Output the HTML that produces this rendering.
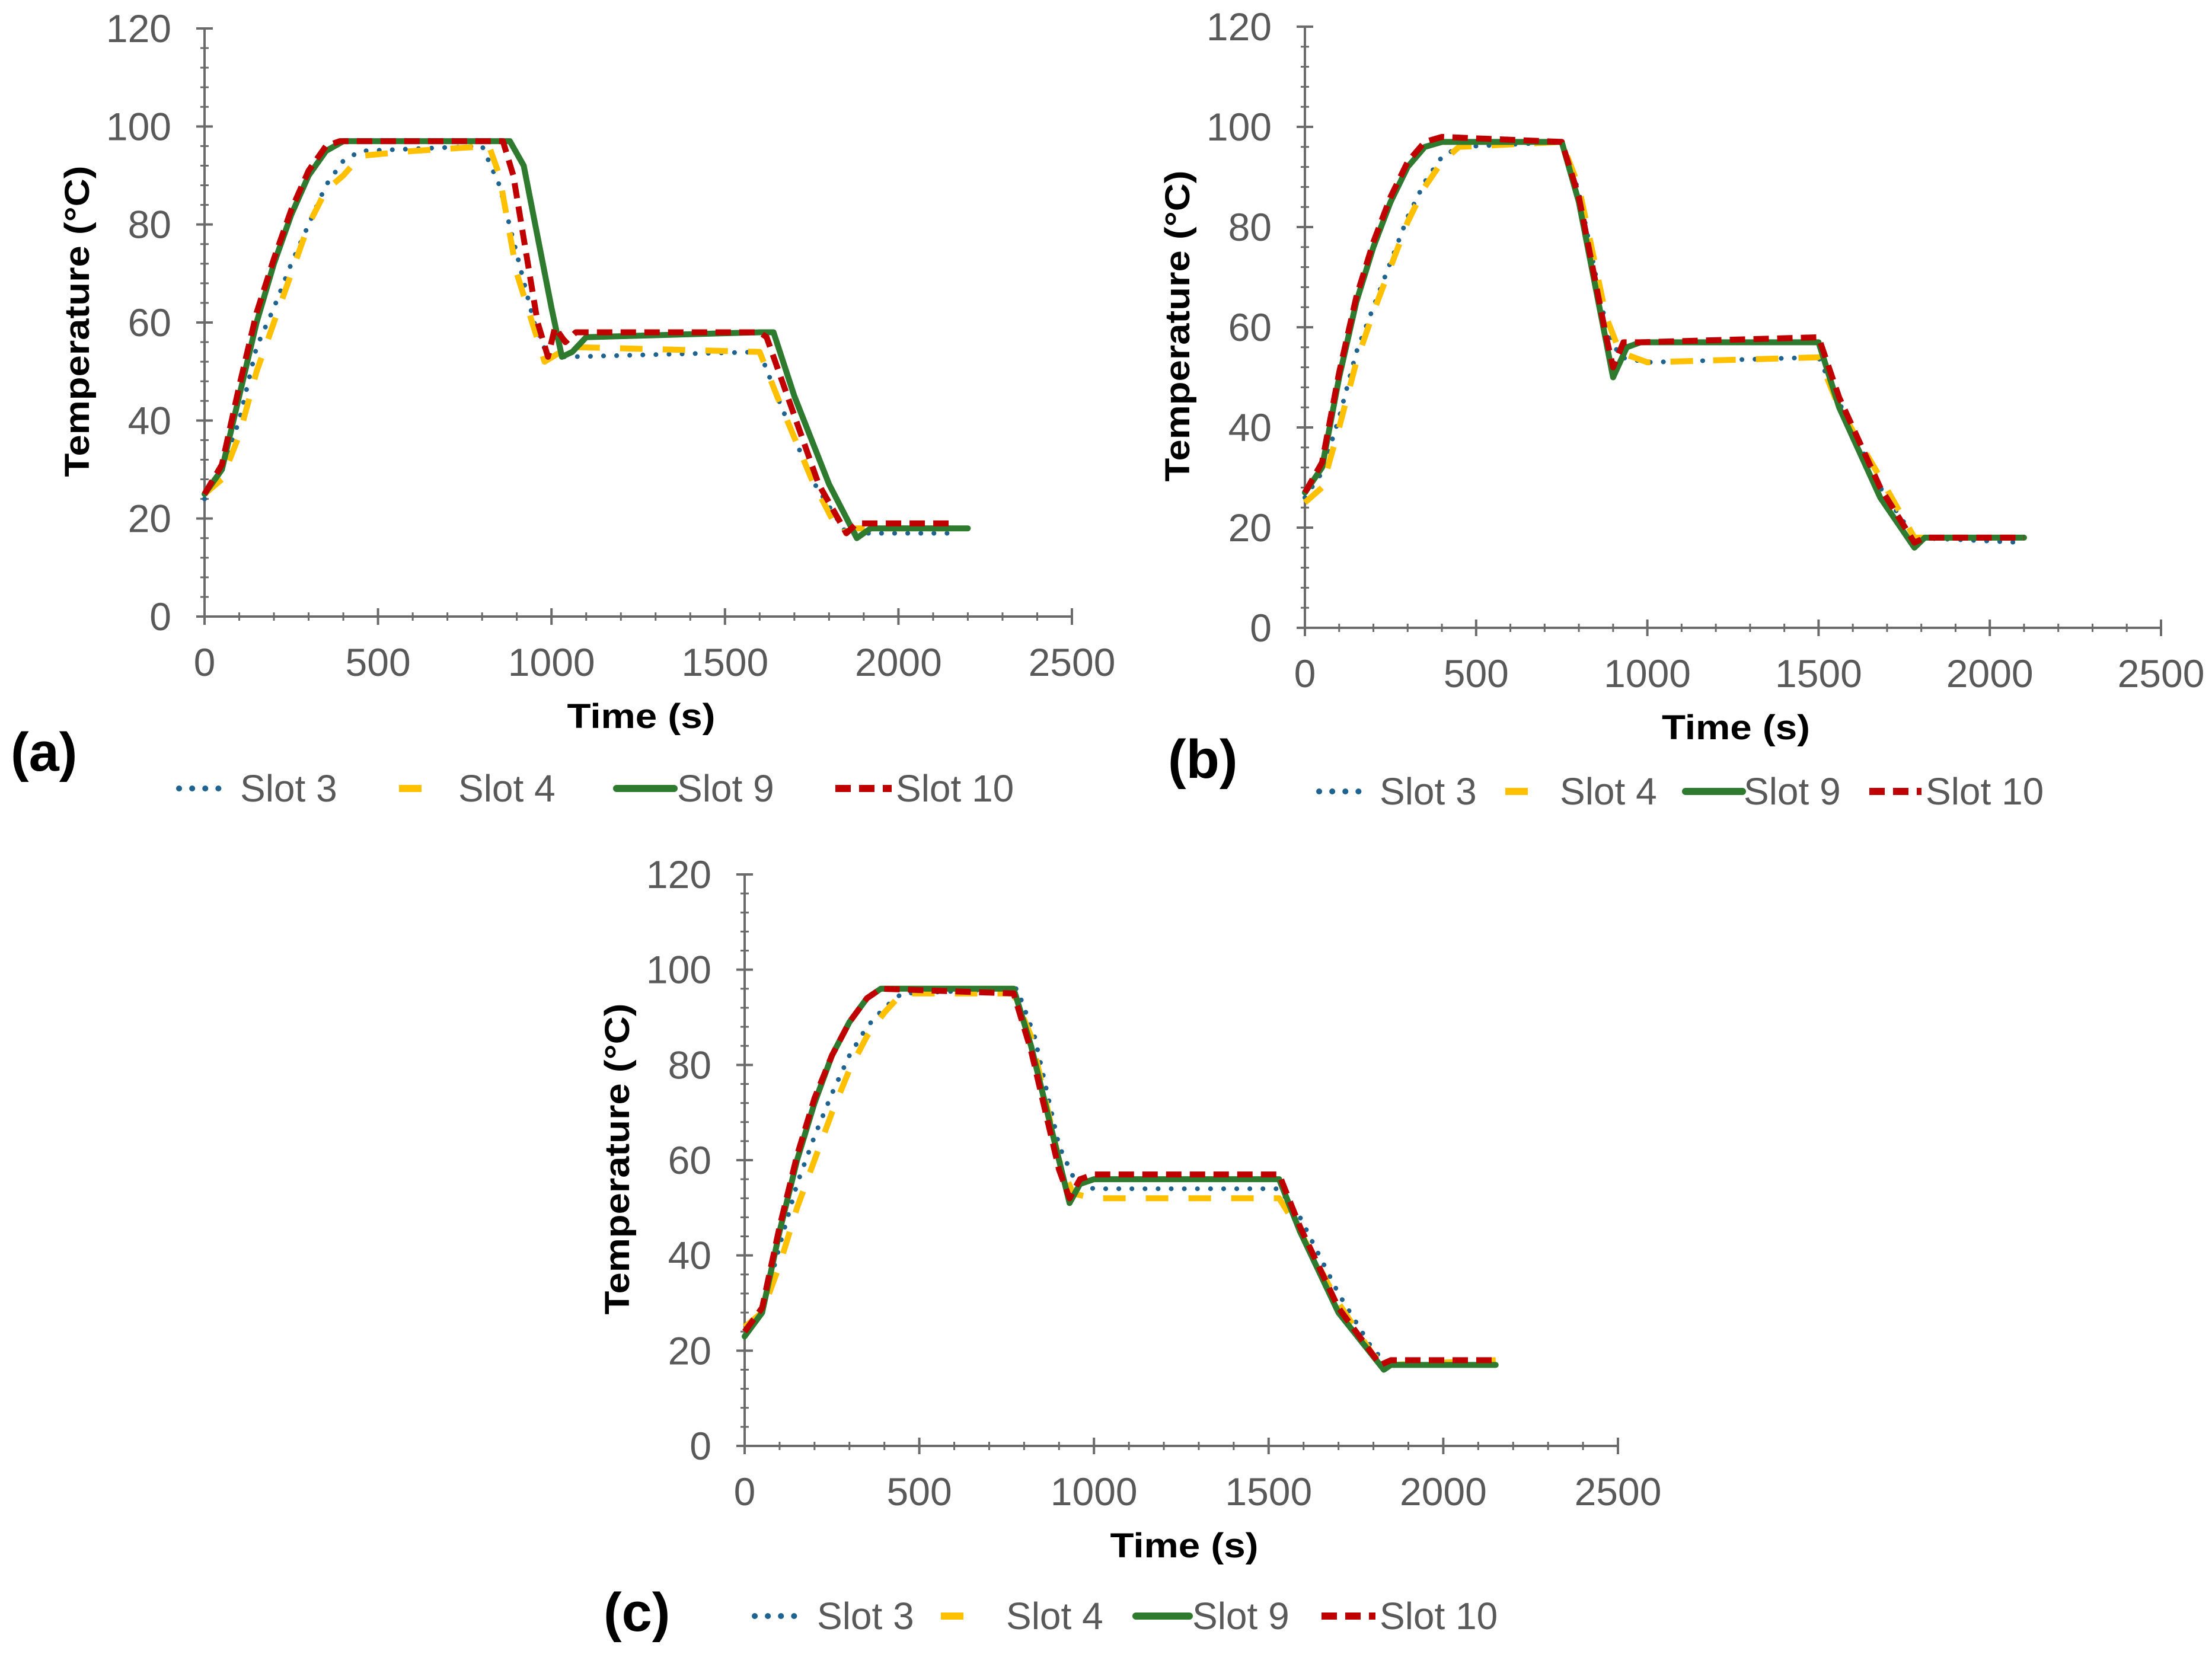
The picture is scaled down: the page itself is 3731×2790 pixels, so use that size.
<!DOCTYPE html>
<html><head><meta charset="utf-8"><style>
html,body{margin:0;padding:0;background:#fff;}
svg{display:block;}
text{font-family:"Liberation Sans",Arial,sans-serif;}
</style></head><body>
<svg id="fig" width="3731" height="2790" viewBox="0 0 3731 2790" xmlns="http://www.w3.org/2000/svg"></svg>
<script>
// ---- data (time s, temperature °C) ----
const xTicks = [0, 500, 1000, 1500, 2000, 2500];
const yTicks = [0, 20, 40, 60, 80, 100, 120];
const seriesNames = ["Slot 3", "Slot 4", "Slot 9", "Slot 10"];

const aSlot3 = [[0,24],[50,30],[100,40],[150,55],[200,63],[250,72],[300,80],[350,88],[400,93],[450,95],[800,96],[850,88],[950,60],[990,53],[1050,53],[1600,54],[1650,45],[1750,28],[1850,17],[2150,17]];
const aSlot4 = [[0,25],[50,28],[100,37],[150,50],[200,60],[250,70],[300,80],[350,87],[400,90],[450,94],[600,95],[820,96],[850,90],[900,70],[980,52],[1050,55],[1600,54],[1650,45],[1750,28],[1830,17],[1880,18],[2150,18]];
const aSlot9 = [[0,25],[50,30],[100,45],[150,60],[200,72],[250,82],[300,90],[350,95],[400,97],[800,97],[880,97],[920,92],[1000,63],[1030,53],[1060,54],[1100,57],[1600,58],[1640,58],[1700,45],[1800,27],[1880,16],[1920,18],[2200,18]];
const aSlot10 = [[0,25],[50,31],[100,47],[150,62],[200,73],[250,83],[300,91],[350,96],[390,97],[860,97],[890,90],[960,60],[990,53],[1010,59],[1040,56],[1070,58],[1600,58],[1620,57],[1680,45],[1770,27],[1850,17],[1880,19],[2150,19]];

const bSlot3 = [[0,26],[50,31],[100,42],[150,55],[200,64],[250,73],[300,82],[350,89],[400,94],[450,96],[750,97],[800,87],[880,60],[920,54],[1000,53],[1500,54],[1560,45],[1680,28],[1780,18],[2100,17]];
const bSlot4 = [[0,25],[50,28],[100,40],[150,53],[200,63],[250,72],[300,81],[350,88],[400,93],[450,96],[750,97],[800,88],[880,62],[920,55],[1000,53],[1500,54],[1560,44],[1680,30],[1780,18],[2100,18]];
const bSlot9 = [[0,27],[50,32],[100,50],[150,65],[200,76],[250,85],[300,92],[350,96],[400,97],[750,97],[800,85],[880,57],[900,50],[940,56],[980,57],[1500,57],[1560,44],[1680,26],[1780,16],[1810,18],[2100,18]];
const bSlot10 = [[0,27],[50,33],[100,51],[150,66],[200,77],[250,86],[300,93],[350,97],[400,98],[750,97],[800,86],[880,58],[900,52],[930,57],[980,57],[1500,58],[1560,46],[1680,28],[1780,17],[1810,18],[2100,18]];

const cSlot3 = [[0,23],[50,28],[100,42],[150,55],[200,65],[250,74],[300,82],[350,88],[400,92],[450,95],[780,96],[830,86],[900,63],[950,55],[1000,54],[1530,54],[1590,48],[1700,32],[1800,20],[1850,17],[2150,17]];
const cSlot4 = [[0,25],[50,28],[100,38],[150,50],[200,60],[250,70],[300,79],[350,86],[400,91],[450,95],[770,95],[820,86],[900,60],[940,53],[1000,52],[1530,52],[1590,45],[1700,30],[1800,19],[1850,17],[2150,18]];
const cSlot9 = [[0,23],[50,28],[100,45],[150,60],[200,72],[250,82],[300,89],[350,94],[390,96],[770,96],[820,84],[900,60],[930,51],[960,55],[1000,56],[1530,56],[1590,45],[1700,28],[1830,16],[1850,17],[2150,17]];
const cSlot10 = [[0,24],[50,29],[100,46],[150,61],[200,73],[250,82],[300,89],[350,94],[390,96],[770,95],[820,83],[900,58],[930,52],[960,56],[1000,57],[1530,57],[1590,46],[1700,29],[1820,17],[1850,18],[2150,18]];

const styles = [
  {color:"#1f6391", width:8, dash:"0.1 22", cap:"round"},
  {color:"#ffc000", width:10, dash:"38 34", cap:"butt"},
  {color:"#2e7a2e", width:10, dash:"", cap:"round"},
  {color:"#c00000", width:10, dash:"26 14", cap:"butt"}
];

const panels = [
  {id:"a", x0:345, x1:1808, y0:1040, y1:48, data:[aSlot3,aSlot4,aSlot9,aSlot10],
   label:{x:18,y:1300}, legendY:1352, legend:[[302,385,405],[673,726,773],[1040,1137,1142],[1409,1504,1511]]},
  {id:"b", x0:2201, x1:3645, y0:1059, y1:45, data:[bSlot3,bSlot4,bSlot9,bSlot10],
   label:{x:1970,y:1312}, legendY:1357, legend:[[2225,2308,2327],[2539,2594,2631],[2843,2939,2941],[3153,3241,3248]]},
  {id:"c", x0:1256, x1:2729, y0:2439, y1:1475, data:[cSlot3,cSlot4,cSlot9,cSlot10],
   label:{x:1018,y:2751}, legendY:2748, legend:[[1273,1361,1378],[1587,1658,1697],[1916,2006,2011],[2229,2320,2327]]}
];

const NS = "http://www.w3.org/2000/svg";
const svg = document.getElementById("fig");
function el(tag, attrs, parent){
  const e = document.createElementNS(NS, tag);
  for (const k in attrs) e.setAttribute(k, attrs[k]);
  (parent||svg).appendChild(e);
  return e;
}

panels.forEach(p => {
  const g = el("g", {});
  
  
  const sx = v => p.x0 + (v/2500)*(p.x1-p.x0);
  const sy = v => p.y0 - (v/120)*(p.y0-p.y1);
  const axisCol = "#6b6b6b";
  const ya = el("line", {x1:p.x0, y1:p.y0, x2:p.x0, y2:p.y1, stroke:axisCol, "stroke-width":4}, g);
  
  
  const xa = el("line", {x1:p.x0, y1:p.y0, x2:p.x1, y2:p.y0, stroke:axisCol, "stroke-width":4}, g);
  
  
  for (let v=4; v<120; v+=4){ if (v%20) el("line",{x1:p.x0-7,y1:sy(v),x2:p.x0+7,y2:sy(v),stroke:axisCol,"stroke-width":3},g); }
  for (let v=100; v<2500; v+=100){ if (v%500) el("line",{x1:sx(v),y1:p.y0-7,x2:sx(v),y2:p.y0+7,stroke:axisCol,"stroke-width":3},g); }
  yTicks.forEach(v => {
    el("line",{x1:p.x0-14,y1:sy(v),x2:p.x0+14,y2:sy(v),stroke:axisCol,"stroke-width":4},g);
    const t = el("text",{x:p.x0-56,y:sy(v)+23,"text-anchor":"end","font-size":66,fill:"#595959"},g);
    t.textContent = v;
    
    
  });
  xTicks.forEach(v => {
    el("line",{x1:sx(v),y1:p.y0-14,x2:sx(v),y2:p.y0+14,stroke:axisCol,"stroke-width":4},g);
    const t = el("text",{x:sx(v),y:p.y0+100,"text-anchor":"middle","font-size":66,fill:"#595959"},g);
    t.textContent = v;
    
    
  });
  const ymid = (p.y0+p.y1)/2 - 2;
  const yt = el("text",{x:0,y:0,transform:`translate(${p.x0-195},${ymid}) rotate(-90)`,"text-anchor":"middle","font-size":58,"font-weight":"bold",fill:"#000",textLength:525,lengthAdjust:"spacingAndGlyphs"},g);
  yt.textContent = "Temperature (°C)";
  
  
  const xt = el("text",{x:(p.x0+p.x1)/2 + 5,y:p.y0+188,"text-anchor":"middle","font-size":58,"font-weight":"bold",fill:"#000",textLength:250,lengthAdjust:"spacingAndGlyphs"},g);
  xt.textContent = "Time (s)";
  
  
  p.data.forEach((d, i) => {
    const s = styles[i];
    const pts = d.map(q => sx(q[0]).toFixed(1)+","+sy(q[1]).toFixed(1)).join(" ");
    const line = el("polyline",{points:pts,fill:"none",stroke:s.color,"stroke-width":s.width,"stroke-dasharray":s.dash,"stroke-linecap":s.cap,"stroke-linejoin":"round"},g);
    
    
  });
  const pl = el("text",{x:p.label.x,y:p.label.y,"font-size":92,"font-weight":"bold",fill:"#000"},g);
  pl.textContent = "(" + p.id + ")";
  
  
  p.legend.forEach((L, i) => {
    const s = styles[i];
    const lg = el("g",{},g);
    
    
    el("line",{x1:L[0],y1:p.legendY-22,x2:L[1],y2:p.legendY-22,stroke:s.color,"stroke-width":s.width+2,"stroke-dasharray":s.dash,"stroke-linecap":s.cap},lg);
    const t = el("text",{x:L[2],y:p.legendY,"font-size":64,fill:"#595959"},lg);
    t.textContent = seriesNames[i];
  });
});
</script>
</body></html>
